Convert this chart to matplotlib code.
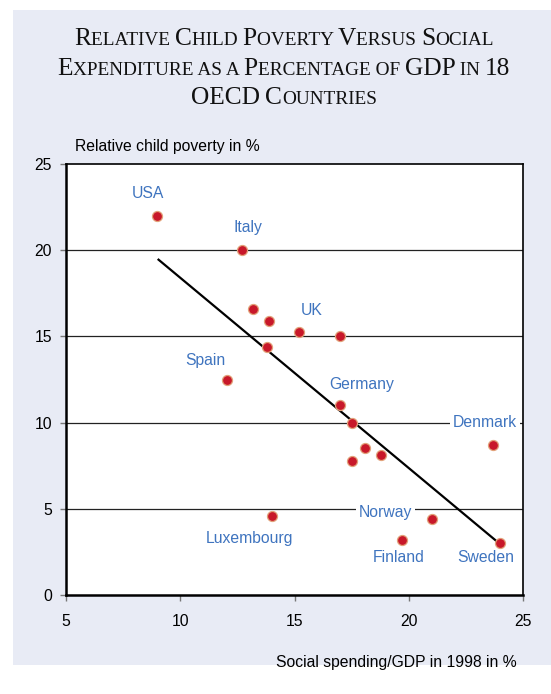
import matplotlib
matplotlib.use("Agg")
import matplotlib.pyplot as plt
from matplotlib.patches import Rectangle
from matplotlib.offsetbox import TextArea, HPacker, AnnotationBbox

# ---------------- data ----------------
spending = [9.0, 12.7, 13.2, 13.9, 15.2, 17.0, 13.8, 12.05, 17.0, 17.5,
            18.1, 18.8, 17.5, 23.7, 14.0, 21.0, 19.7, 24.0]
poverty = [22.0, 20.0, 16.6, 15.9, 15.25, 15.0, 14.4, 12.5, 11.0, 10.0,
           8.5, 8.1, 7.8, 8.7, 4.6, 4.4, 3.2, 3.0]
country_labels = ["USA", "Italy", "UK", "Spain", "Germany", "Denmark",
                  "Norway", "Luxembourg", "Finland", "Sweden"]
trend_x = [9.05, 24.0]
trend_y = [19.45, 2.95]
x_ticks = [5, 10, 15, 20, 25]
y_ticks = [0, 5, 10, 15, 20, 25]
title_lines = ["Relative Child Poverty Versus Social",
               "Expenditure as a Percentage of GDP in 18",
               "OECD Countries"]
y_title = "Relative child poverty in %"
x_title = "Social spending/GDP in 1998 in %"

# ---------------- style ----------------
W, H = 551, 694
fig = plt.figure(figsize=(W / 100, H / 100), dpi=100)
fig.patch.set_facecolor("white")
PANEL = "#E8EBF5"
BLUE = "#3F74BF"
sans = "Liberation Sans"
serif = "Liberation Serif"
FS = 11.3

fig.patches.append(Rectangle((13 / W, 1 - 665 / H), 1.0, (665 - 10) / H,
                             transform=fig.transFigure, facecolor=PANEL,
                             edgecolor="none", zorder=-5))

ax = fig.add_axes([66 / W, 1 - 595 / H, (523 - 66) / W, (595 - 164) / H])
ax.set_zorder(2)
ax.set_facecolor("white")
ax.set_xlim(5, 25)
ax.set_ylim(0, 25)
ax.set_xticks(x_ticks)
ax.set_yticks(y_ticks)
ax.tick_params(axis="both", direction="out", length=4, width=1,
               color="#777777", labelsize=FS)
ax.tick_params(axis="x", pad=10)
ax.tick_params(axis="y", pad=6)
for lab in ax.get_xticklabels() + ax.get_yticklabels():
    lab.set_family(sans)
for side in ["left", "bottom"]:
    ax.spines[side].set_linewidth(1.8)
for side in ["top", "right"]:
    ax.spines[side].set_linewidth(1.2)
for s in ax.spines.values():
    s.set_color("black")

for yv in y_ticks[1:-1]:
    ax.axhline(yv, color="#222222", lw=0.9, zorder=1)

ax.plot(trend_x, trend_y, color="black", lw=1.6, zorder=2)
ax.scatter(spending, poverty, s=52, color="#C8182A", edgecolors="#E2A27A",
           linewidths=0.9, zorder=3)

# label placements (data coordinates of label centres)
label_pos = {
    "USA": (8.6, 23.3), "Italy": (12.95, 21.3), "UK": (15.75, 16.5),
    "Spain": (11.1, 13.6), "Germany": (17.95, 12.2), "Denmark": (23.35, 10.0),
    "Norway": (19.0, 4.8), "Luxembourg": (13.05, 3.3), "Finland": (19.55, 2.15),
    "Sweden": (23.35, 2.15),
}
for name in country_labels:
    px, py = label_pos[name]
    kw = {}
    if name in ("Denmark", "Norway"):
        kw["bbox"] = dict(facecolor="white", edgecolor="none", pad=2)
    ax.text(px, py, name, color=BLUE, fontsize=FS, family=sans,
            ha="center", va="center", zorder=4, **kw)

fig.text(75 / W, 1 - 147 / H, y_title, fontsize=FS, family=sans,
         ha="left", va="center")
fig.text(517 / W, 1 - 662 / H, x_title, fontsize=FS, family=sans,
         ha="right", va="center")


# ---------------- small-caps title ----------------
def small_caps_runs(line):
    runs = []
    for ch in line:
        big = ch.isupper() or ch.isdigit()
        txt = ch.upper()
        if runs and runs[-1][1] == big:
            runs[-1][0] += txt
        else:
            runs.append([txt, big])
    return runs


BIG, SMALL = 18.3, 13.9
baselines = [50, 80, 109]
for line, base in zip(title_lines, baselines):
    areas = [TextArea(t, textprops=dict(fontsize=BIG if b else SMALL,
                                        family=serif, color="#111111"))
             for t, b in small_caps_runs(line)]
    pack = HPacker(children=areas, align="baseline", pad=0, sep=0)
    ab = AnnotationBbox(pack, (284 / W, 1 - base / H), xycoords="figure fraction",
                        box_alignment=(0.5, 0.0), frameon=False, pad=0)
    fig.add_artist(ab)

fig.savefig("out.png", dpi=100, facecolor="white")
